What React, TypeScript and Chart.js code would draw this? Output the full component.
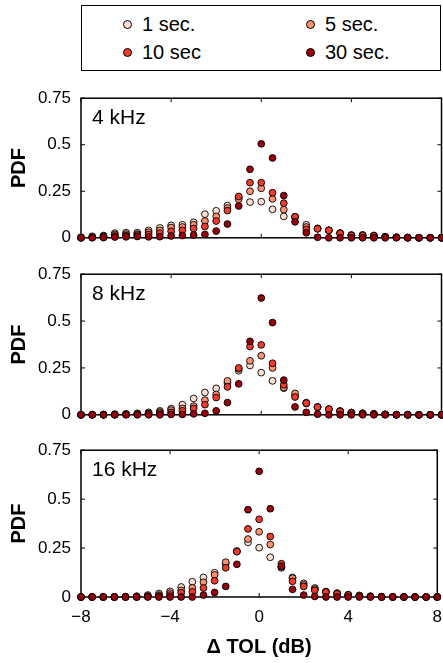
import React, { useEffect, useRef } from 'react';
import { Chart, registerables } from 'chart.js';
Chart.register(...registerables);

const TOL_DB = [-8, -7.5, -7, -6.5, -6, -5.5, -5, -4.5, -4, -3.5, -3, -2.5, -2, -1.5, -1, -0.5, 0, 0.5, 1, 1.5, 2, 2.5, 3, 3.5, 4, 4.5, 5, 5.5, 6, 6.5, 7, 7.5, 8];
const SERIES_LABELS = ['1 sec.', '5 sec.', '10 sec', '30 sec.'];
const SERIES_COLORS = ['#fee0d2', '#fc9272', '#ef3b2c', '#99000d'];
const X_TICKS = [-8, -4, 0, 4, 8];
const Y_TICKS = [0, 0.25, 0.5, 0.75];
const PANEL_LABELS = ['4 kHz', '8 kHz', '16 kHz'];

const PDF_4K_1S = [0.003, 0.008, 0.012, 0.025, 0.028, 0.028, 0.040, 0.053, 0.067, 0.070, 0.083, 0.127, 0.145, 0.173, 0.215, 0.192, 0.194, 0.153, 0.115, 0.113, 0.070, 0.050, 0.040, 0.025, 0.015, 0.015, 0.012, 0.005, 0.003, 0.002, 0.001, 0, 0];
const PDF_4K_5S = [0, 0.003, 0.008, 0.018, 0.020, 0.020, 0.030, 0.040, 0.055, 0.058, 0.070, 0.090, 0.115, 0.160, 0.207, 0.250, 0.266, 0.209, 0.151, 0.110, 0.058, 0.050, 0.040, 0.025, 0.014, 0.015, 0.012, 0.006, 0.003, 0.001, 0, 0, 0];
const PDF_4K_10S = [0, 0.002, 0.005, 0.010, 0.012, 0.015, 0.018, 0.025, 0.035, 0.040, 0.050, 0.061, 0.090, 0.146, 0.222, 0.296, 0.296, 0.242, 0.186, 0.113, 0.045, 0.048, 0.040, 0.024, 0.012, 0.012, 0.010, 0.005, 0.002, 0, 0, 0, 0];
const PDF_4K_30S = [0, 0, 0.001, 0.004, 0.005, 0.007, 0.005, 0.006, 0.010, 0.012, 0.015, 0.018, 0.036, 0.074, 0.171, 0.368, 0.505, 0.429, 0.227, 0.086, 0.027, 0.003, 0, 0, 0, 0, 0, 0, 0, 0, 0, 0, 0];

const PDF_8K_1S = [0, 0, 0.002, 0.003, 0.005, 0.008, 0.013, 0.021, 0.033, 0.054, 0.087, 0.119, 0.141, 0.170, 0.235, 0.263, 0.225, 0.181, 0.142, 0.105, 0.065, 0.042, 0.030, 0.020, 0.012, 0.008, 0.005, 0.003, 0, 0, 0, 0, 0];
const PDF_8K_5S = [0, 0, 0, 0.002, 0.003, 0.005, 0.008, 0.015, 0.025, 0.034, 0.046, 0.078, 0.108, 0.181, 0.245, 0.288, 0.315, 0.250, 0.146, 0.114, 0.060, 0.040, 0.030, 0.020, 0.012, 0.008, 0.005, 0.002, 0, 0, 0, 0, 0];
const PDF_8K_10S = [0, 0, 0, 0, 0.002, 0.003, 0.005, 0.008, 0.013, 0.021, 0.034, 0.054, 0.092, 0.149, 0.250, 0.364, 0.373, 0.275, 0.160, 0.095, 0.062, 0.041, 0.030, 0.018, 0.010, 0.006, 0.004, 0.002, 0, 0, 0, 0, 0];
const PDF_8K_30S = [0, 0, 0, 0, 0, 0, 0, 0, 0.002, 0.002, 0.005, 0.008, 0.021, 0.065, 0.165, 0.392, 0.623, 0.492, 0.185, 0.042, 0.013, 0.003, 0, 0, 0, 0, 0, 0, 0, 0, 0, 0, 0];

const PDF_16K_1S = [0, 0, 0, 0, 0.002, 0.004, 0.010, 0.018, 0.029, 0.051, 0.078, 0.100, 0.124, 0.170, 0.235, 0.279, 0.252, 0.203, 0.149, 0.100, 0.070, 0.046, 0.028, 0.020, 0.012, 0.008, 0.004, 0.002, 0, 0, 0, 0, 0];
const PDF_16K_5S = [0, 0, 0, 0, 0, 0.002, 0.005, 0.010, 0.020, 0.034, 0.047, 0.075, 0.113, 0.178, 0.232, 0.296, 0.333, 0.268, 0.155, 0.096, 0.062, 0.040, 0.026, 0.018, 0.010, 0.006, 0.003, 0, 0, 0, 0, 0, 0];
const PDF_16K_10S = [0, 0, 0, 0, 0, 0, 0.002, 0.005, 0.010, 0.022, 0.026, 0.046, 0.083, 0.149, 0.232, 0.348, 0.397, 0.309, 0.170, 0.080, 0.054, 0.034, 0.025, 0.016, 0.010, 0.005, 0.002, 0, 0, 0, 0, 0, 0];
const PDF_16K_30S = [0, 0, 0, 0, 0, 0, 0, 0, 0, 0, 0, 0.010, 0.023, 0.054, 0.167, 0.446, 0.642, 0.451, 0.157, 0.039, 0.010, 0.003, 0, 0, 0, 0, 0, 0, 0, 0, 0, 0, 0];

const PANEL_SERIES = [
  [PDF_4K_1S, PDF_4K_5S, PDF_4K_10S, PDF_4K_30S],
  [PDF_8K_1S, PDF_8K_5S, PDF_8K_10S, PDF_8K_30S],
  [PDF_16K_1S, PDF_16K_5S, PDF_16K_10S, PDF_16K_30S],
];

const FONT = '"Liberation Sans", Arial, Helvetica, sans-serif';

const framePlugin = {
  id: 'frame',
  beforeDatasetsDraw(chart: any, _args: any, opts: any) {
    const { ctx, chartArea, scales } = chart;
    const { left, right, top, bottom } = chartArea;
    const x = scales.x;
    const y = scales.y;
    ctx.save();
    ctx.strokeStyle = '#000';
    ctx.lineWidth = 1;
    const tl = 4;
    ctx.beginPath();
    X_TICKS.forEach((v) => {
      const px = x.getPixelForValue(v);
      ctx.moveTo(px, top);
      ctx.lineTo(px, top + tl);
      ctx.moveTo(px, bottom);
      ctx.lineTo(px, bottom - tl);
    });
    Y_TICKS.forEach((v) => {
      const py = y.getPixelForValue(v);
      ctx.moveTo(left, py);
      ctx.lineTo(left + tl, py);
      ctx.moveTo(right, py);
      ctx.lineTo(right - tl, py);
    });
    ctx.stroke();
    ctx.lineWidth = 1.5;
    ctx.strokeRect(left, top, right - left, bottom - top);
    ctx.fillStyle = '#000';
    ctx.font = '21px ' + FONT;
    ctx.textAlign = 'left';
    ctx.textBaseline = 'alphabetic';
    ctx.fillText(opts.label, left + 11, top + 26);
    ctx.restore();
  },
};

const fmtX = (v: number) => (v < 0 ? '\u2212' + Math.abs(v) : String(v));
const fmtY = (v: number) => String(v);

function Panel({ index, top, height, showX }: { index: number; top: number; height: number; showX: boolean }) {
  const ref = useRef<HTMLCanvasElement | null>(null);
  useEffect(() => {
    if (!ref.current) return;
    const series = PANEL_SERIES[index];
    const datasets = series.map((vals, i) => ({
      label: SERIES_LABELS[i],
      data: TOL_DB.map((xv, j) => ({ x: xv, y: vals[j] })),
      backgroundColor: SERIES_COLORS[i],
      borderColor: '#000',
      borderWidth: 0.9,
      pointRadius: 3.4,
      showLine: false,
      clip: false as any,
      order: 3 - i,
    }));
    const xScale: any = {
      type: 'linear',
      min: -8,
      max: 8,
      display: showX,
      afterBuildTicks: (s: any) => {
        s.ticks = X_TICKS.map((v) => ({ value: v }));
      },
      ticks: {
        callback: (v: any) => fmtX(Number(v)),
        font: { family: FONT, size: 17 },
        color: '#000',
        padding: 10,
        maxRotation: 0,
        autoSkip: false,
      },
      grid: { display: false, drawTicks: false, tickLength: 0 },
      border: { display: false },
      title: {
        display: true,
        text: '\u0394 TOL (dB)',
        font: { family: FONT, size: 20, weight: 'bold' },
        color: '#000',
        padding: { top: 0, bottom: 4 },
      },
    };
    if (showX) {
      xScale.afterFit = (s: any) => {
        s.height = 66;
      };
    }
    const chart = new Chart(ref.current, {
      type: 'scatter',
      data: { datasets },
      options: {
        animation: false,
        responsive: false,
        events: [],
        layout: { padding: { top: 14, right: 10.5, bottom: showX ? 0 : 14, left: 0 } },
        plugins: {
          legend: { display: false },
          tooltip: { enabled: false },
          frame: { label: PANEL_LABELS[index] },
        } as any,
        scales: {
          x: xScale,
          y: {
            type: 'linear',
            min: 0,
            max: 0.75,
            afterBuildTicks: (s: any) => {
              s.ticks = Y_TICKS.map((v) => ({ value: v }));
            },
            afterFit: (s: any) => {
              s.width = 81;
            },
            ticks: {
              callback: (v: any) => fmtY(Number(v)),
              font: { family: FONT, size: 17 },
              color: '#000',
              padding: 10,
            },
            grid: { display: false, drawTicks: false, tickLength: 0 },
            border: { display: false },
            title: {
              display: true,
              text: 'PDF',
              font: { family: FONT, size: 20, weight: 'bold' },
              color: '#000',
              padding: { top: 7, bottom: 0 },
            },
          } as any,
        },
      },
      plugins: [framePlugin],
    });
    return () => chart.destroy();
  }, [index, showX]);
  return (
    <canvas
      ref={ref}
      width={452}
      height={height}
      style={{ position: 'absolute', left: 0, top, width: 452, height }}
    />
  );
}

const LEGEND_POS = [
  { cx: 127, cy: 24 },
  { cx: 310, cy: 24 },
  { cx: 127, cy: 52 },
  { cx: 310, cy: 52 },
];

export default function App() {
  return (
    <div
      style={{
        position: 'absolute',
        left: 0,
        top: 0,
        width: 443,
        height: 663,
        overflow: 'hidden',
        background: '#fff',
        fontFamily: FONT,
      }}
    >
      <div
        style={{
          position: 'absolute',
          left: 81,
          top: 5,
          width: 360,
          height: 66,
          boxSizing: 'border-box',
          border: '1.5px solid #000',
        }}
      />
      {SERIES_LABELS.map((lab, i) => {
        const p = LEGEND_POS[i];
        return (
          <React.Fragment key={lab}>
            <span
              style={{
                position: 'absolute',
                left: p.cx - 4.5,
                top: p.cy - 4.5,
                width: 9,
                height: 9,
                boxSizing: 'border-box',
                borderRadius: '50%',
                border: '1px solid #000',
                background: SERIES_COLORS[i],
              }}
            />
            <span
              style={{
                position: 'absolute',
                left: p.cx + 15,
                top: p.cy - 12,
                height: 24,
                lineHeight: '24px',
                fontSize: 20,
                color: '#000',
                whiteSpace: 'nowrap',
              }}
            >
              {lab}
            </span>
          </React.Fragment>
        );
      })}
      <Panel index={0} top={78} height={180} showX={false} />
      <Panel index={1} top={254} height={181} showX={false} />
      <Panel index={2} top={430} height={233} showX={true} />
    </div>
  );
}
